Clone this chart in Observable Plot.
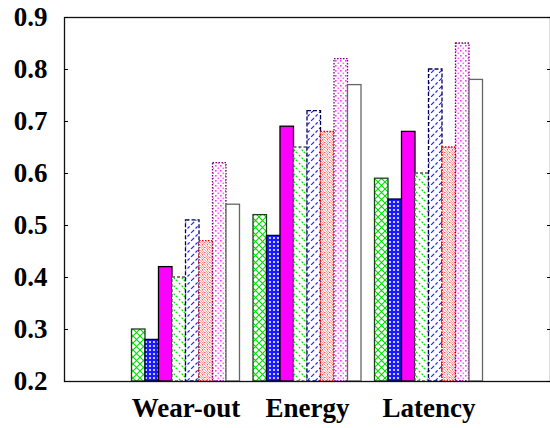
<!DOCTYPE html>
<html><head><meta charset="utf-8">
<script src="https://cdn.jsdelivr.net/npm/d3@7"></script>
<script src="https://cdn.jsdelivr.net/npm/@observablehq/plot@0.6"></script>
<style>
body{margin:0;background:#fff}
svg text{font-family:"Liberation Serif","Times New Roman",serif !important;font-weight:bold;font-size:27px}
</style>
</head><body><div id="chart"></div>
<script>
const categories = ["Wear-out", "Energy", "Latency"];
const wearOut = [0.30, 0.28, 0.42, 0.40, 0.51, 0.47, 0.62, 0.54];
const energy  = [0.52, 0.48, 0.69, 0.65, 0.72, 0.68, 0.82, 0.77];
const latency = [0.59, 0.55, 0.68, 0.60, 0.80, 0.65, 0.85, 0.78];
const yTicks = [0.2, 0.3, 0.4, 0.5, 0.6, 0.7, 0.8, 0.9];

const groups = [wearOut, energy, latency];
const rows = [];
groups.forEach((vals, c) => vals.forEach((v, s) => rows.push({cat: categories[c], pos: c + 1, series: s, value: v})));

const styles = [
  {fill: "url(#p0)", stroke: "#1f3f1f", dash: null},
  {fill: "url(#p1)", stroke: "#000033", dash: null},
  {fill: "#ff00ff", stroke: "#000", dash: null},
  {fill: "url(#p3)", stroke: "#555", dash: "3,2"},
  {fill: "url(#p4)", stroke: "#00005a", dash: "4,2"},
  {fill: "url(#p5)", stroke: "#e00000", dash: "1.5,1.5"},
  {fill: "url(#p6)", stroke: "#7a007a", dash: "1.5,1.5"},
  {fill: "#fff", stroke: "#666", dash: null}
];

const barMarks = styles.map((st, s) => Plot.rectY(rows.filter(d => d.series === s), {
  x1: d => d.pos - 4 / 9 + s / 9,
  x2: d => d.pos - 4 / 9 + (s + 1) / 9,
  y1: 0.2,
  y2: "value",
  fill: st.fill,
  stroke: st.stroke,
  strokeWidth: 1.3,
  strokeDasharray: st.dash
}));

const plot = Plot.plot({
  width: 550,
  height: 428,
  marginLeft: 64,
  marginRight: 0,
  marginTop: 17,
  marginBottom: 47,
  style: {fontFamily: "Liberation Serif, serif", fontSize: "27px", fontWeight: "bold", color: "#000", background: "#fff"},
  x: {type: "linear", domain: [0, 4]},
  y: {domain: [0.2, 0.9]},
  marks: [
    ...barMarks,
    Plot.frame({stroke: "#111", strokeWidth: 1.3}),
    Plot.axisY(yTicks, {tickSize: -4, tickPadding: 21, tickFormat: d3.format(".1f"), label: null}),
    Plot.axisY(yTicks, {anchor: "right", tickSize: -4, tickFormat: () => "", label: null}),
    Plot.axisX([1, 2, 3], {tickSize: 0, tickPadding: 16, tickFormat: d => categories[d - 1], label: null})
  ]
});
plot.setAttribute("font-family", "Liberation Serif, serif");

const defs = d3.select(plot).insert("defs", ":first-child");
function pat(id, size) {
  return defs.append("pattern").attr("id", id).attr("patternUnits", "userSpaceOnUse").attr("width", size).attr("height", size);
}
// green crosshatch
let p = pat("p0", 7);
p.append("rect").attr("width", 7).attr("height", 7).attr("fill", "#fff");
p.append("path").attr("d", "M0,0L7,7M7,0L0,7").attr("stroke", "#00dd00").attr("stroke-width", 1.1);
// blue fine crosshatch (dots)
p = pat("p1", 4);
p.append("rect").attr("width", 4).attr("height", 4).attr("fill", "#1a1aff");
p.append("circle").attr("cx", 2).attr("cy", 2).attr("r", 1).attr("fill", "#fff");
// green dashed backslash
p = pat("p3", 8);
p.append("rect").attr("width", 8).attr("height", 8).attr("fill", "#fff");
p.append("path").attr("d", "M0,0L8,8M-4,4L4,12M4,-4L12,4").attr("stroke", "#00dd00").attr("stroke-width", 1.2).attr("stroke-dasharray", "2,2");
// blue dashed slash
p = pat("p4", 8);
p.append("rect").attr("width", 8).attr("height", 8).attr("fill", "#fff");
p.append("path").attr("d", "M0,8L8,0M-4,4L4,-4M4,12L12,4").attr("stroke", "#2020ff").attr("stroke-width", 1.2).attr("stroke-dasharray", "3,2");
// red dotted backslash
p = pat("p5", 5);
p.append("rect").attr("width", 5).attr("height", 5).attr("fill", "#fff0f0");
p.append("path").attr("d", "M0,0L5,5M-2.5,2.5L2.5,7.5M2.5,-2.5L7.5,2.5").attr("stroke", "#ffa0a0").attr("stroke-width", 0.9);
p.append("path").attr("d", "M-1,1L4,6M1,-1L6,4").attr("stroke", "#ff2020").attr("stroke-width", 1).attr("stroke-dasharray", "1,1.3");
// pink dots
p = pat("p6", 5);
p.append("rect").attr("width", 5).attr("height", 5).attr("fill", "#fff");
p.append("rect").attr("x", 0).attr("y", 0).attr("width", 1.6).attr("height", 1.6).attr("fill", "#ff33ff");
p.append("rect").attr("x", 2.5).attr("y", 2.5).attr("width", 1.6).attr("height", 1.6).attr("fill", "#ff66ff");

document.getElementById("chart").appendChild(plot);
</script>
</body></html>
